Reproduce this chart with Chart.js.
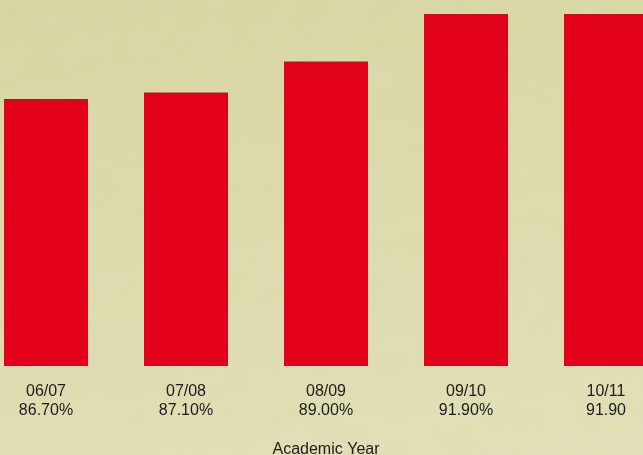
<!DOCTYPE html>
<html>
<head>
<meta charset="utf-8">
<script src="https://cdn.jsdelivr.net/npm/chart.js@4.4.0/dist/chart.umd.min.js"></script>
<style>
  html, body { margin: 0; padding: 0; width: 643px; height: 455px; overflow: hidden; }
  body {
    position: relative;
    background: linear-gradient(170deg, #d7d4a3 0%, #dcd9ab 45%, #e2deb6 100%);
  }
  /* paper texture */
  .grain {
    position: absolute; left: 0; top: 0; width: 643px; height: 455px; opacity: 0.18;
    background-image: url("data:image/svg+xml;utf8,<svg xmlns='http://www.w3.org/2000/svg' width='643' height='455'><filter id='n'><feTurbulence type='fractalNoise' baseFrequency='0.035' numOctaves='3' seed='4'/><feColorMatrix type='saturate' values='0'/></filter><rect width='100%' height='100%' filter='url(%23n)'/></svg>");
    mix-blend-mode: soft-light;
  }
  #myChart { position: absolute; left: -24px; top: 0; }
</style>
</head>
<body>
<div class="grain"></div>
<canvas id="myChart" width="700" height="455"></canvas>
<script>
// academic years and retention rates
var years = ['06/07', '07/08', '08/09', '09/10', '10/11'];
var rates = [86.7, 87.1, 89.0, 91.9, 91.9];
var rateLabels = ['86.70%', '87.10%', '89.00%', '91.90%', '91.90'];

var labels = [];
years.forEach(function (y, i) {
    labels.push([y, rateLabels[i]]);
});

const ctx = document.getElementById('myChart');
const myChart = new Chart(ctx, {
    type: 'bar',
    data: {
        labels: labels,
        datasets: [{
            label: 'Rate',
            data: rates,
            backgroundColor: '#e3001b',
            borderWidth: 0,
            barPercentage: 0.6,
            categoryPercentage: 1.0
        }]
    },
    options: {
        responsive: false,
        animation: false,
        layout: { padding: 0 },
        plugins: {
            legend: { display: false },
            tooltip: { enabled: false }
        },
        scales: {
            y: {
                display: false,
                min: 70.4,
                max: 92.75
            },
            x: {
                grid: { display: false, drawTicks: false },
                border: { display: false },
                ticks: {
                    color: '#1c1c1c',
                    padding: 16,
                    maxRotation: 0,
                    font: { family: 'Liberation Sans, Arial, sans-serif', size: 16, lineHeight: 1.2 }
                },
                title: {
                    display: true,
                    text: 'Academic Year',
                    color: '#1c1c1c',
                    padding: { top: 0, bottom: 0 },
                    font: { family: 'Liberation Sans, Arial, sans-serif', size: 16, lineHeight: 0.65 }
                },
                afterFit: function (scale) {
                    scale.height = 89;
                }
            }
        }
    }
});
</script>
</body>
</html>
